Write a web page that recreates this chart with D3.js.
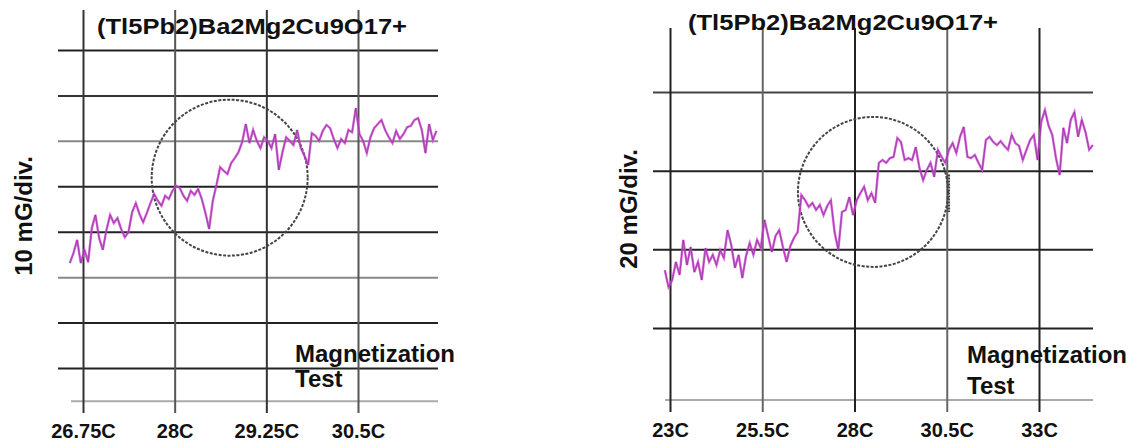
<!DOCTYPE html>
<html>
<head>
<meta charset="utf-8">
<script src="https://cdn.jsdelivr.net/npm/d3@7"></script>
<style>
  body { margin: 0; background: #fff; }
  svg text { font-family: "Liberation Sans", Arial, sans-serif; font-weight: bold; fill: #111; }
</style>
</head>
<body>
<svg id="chart" width="1148" height="448"></svg>
<script>
// ---- data ----
var title = "(Tl5Pb2)Ba2Mg2Cu9O17+";

// left run: 10 mG per division
var leftTicks = [26.75, 28, 29.25, 30.5];
var leftTickLabels = ["26.75C", "28C", "29.25C", "30.5C"];
var leftGrid = [80, 70, 60, 50, 40, 30, 20, 10];
var leftStart = 26.57, leftStep = 0.05;
var leftMag = [
  33.1, 35.3, 38.2, 33.1, 36.0, 33.3, 40.8, 43.7, 38.6, 36.0,
  40.4, 43.7, 41.9, 43.0, 40.6, 38.8, 39.9, 44.3, 46.3, 43.9,
  42.1, 44.1, 46.3, 48.3, 46.8, 45.7, 47.9, 47.2, 49.0, 50.1,
  49.6, 47.9, 46.8, 49.0, 48.1, 49.4, 47.2, 44.1, 40.6, 46.8,
  50.3, 54.2, 53.4, 52.7, 55.1, 56.2, 57.5, 59.7, 63.7, 59.5,
  62.4, 60.0, 58.4, 60.8, 60.0, 58.4, 61.5, 53.6, 57.5, 60.8,
  60.0, 59.1, 62.4, 58.4, 56.7, 54.7, 61.7, 61.1, 60.0, 62.2,
  63.5, 62.8, 60.4, 58.4, 60.4, 59.5, 62.4, 61.9, 67.2, 61.5,
  60.0, 57.3, 60.8, 62.8, 63.7, 64.6, 62.4, 60.8, 59.5, 62.2,
  60.4, 61.5, 63.0, 63.3, 64.6, 65.0, 62.4, 57.3, 63.7, 60.2,
  62.2
];

// right run: 20 mG per division
var rightTicks = [23, 25.5, 28, 30.5, 33];
var rightTickLabels = ["23C", "25.5C", "28C", "30.5C", "33C"];
var rightGrid = [80, 60, 40, 20];
var rightStart = 22.86, rightStep = 0.1;
var rightMag = [
  34.7, 30.4, 32.2, 36.8, 33.5, 42.4, 36.0, 40.6, 34.2, 36.8,
  32.2, 40.3, 36.8, 38.6, 36.0, 39.8, 37.8, 44.9, 41.1, 35.3,
  38.6, 32.7, 38.3, 41.6, 38.6, 42.4, 40.3, 47.5, 43.4, 39.3,
  43.4, 44.9, 40.6, 36.8, 40.8, 42.9, 44.4, 53.8, 52.5, 50.8,
  51.8, 50.0, 51.3, 48.7, 51.0, 52.5, 44.4, 39.8, 49.5, 50.0,
  53.3, 48.7, 52.5, 54.3, 55.9, 52.5, 54.3, 51.8, 62.0, 62.7,
  62.0, 63.2, 63.5, 68.3, 67.3, 62.7, 63.2, 62.7, 66.0, 60.7,
  57.6, 60.2, 62.0, 58.4, 65.3, 63.5, 62.0, 65.3, 67.0, 64.5,
  68.6, 71.1, 63.5, 63.2, 64.0, 62.0, 60.2, 67.8, 68.6, 67.3,
  66.5, 67.5, 66.3, 65.3, 69.1, 67.0, 66.3, 62.7, 65.3, 67.8,
  69.1, 62.7, 72.4, 75.4, 71.4, 69.1, 63.2, 58.9, 70.9, 67.0,
  72.9, 74.9, 68.6, 72.9, 69.8, 65.3, 66.5
];

var svg = d3.select("#chart");

function drawPanel(p) {
  var x = d3.scaleLinear().domain(p.xDomain).range(p.xRange);
  var y = d3.scaleLinear().domain(p.yDomain).range(p.yRange);
  var g = svg.append("g");

  // horizontal division lines
  var yAxis = d3.axisLeft(y).tickValues(p.grid).tickSize(-(p.gridRight - p.gridLeft)).tickFormat("");
  var ya = g.append("g").attr("transform", "translate(" + p.gridLeft + ",0)").call(yAxis);
  ya.select(".domain").remove();
  ya.selectAll(".tick line")
    .attr("stroke", function(d, i) { return p.hColors[i]; })
    .attr("stroke-width", 2);

  // bottom light rule
  g.append("line")
    .attr("x1", p.baseLeft).attr("x2", p.gridRight)
    .attr("y1", y(p.baseValue)).attr("y2", y(p.baseValue))
    .attr("stroke", "#aaa").attr("stroke-width", 2);

  // vertical lines + temperature labels
  var xAxis = d3.axisBottom(x).tickValues(p.ticks)
    .tickFormat(function(d, i) { return p.tickLabels[i]; })
    .tickSize(-(p.vBottom - p.vTop)).tickPadding(11);
  var xa = g.append("g").attr("transform", "translate(0," + p.vBottom + ")").call(xAxis);
  xa.select(".domain").remove();
  xa.selectAll(".tick line")
    .attr("stroke", function(d, i) { return p.vColors[i]; })
    .attr("stroke-width", 2);
  xa.selectAll(".tick text")
    .attr("font-size", 20).attr("fill", "#1a1a1a")
    .attr("font-family", "Liberation Sans, Arial, sans-serif").attr("font-weight", "bold");

  // annotation circle
  g.append("circle")
    .attr("cx", x(p.circle[0])).attr("cy", y(p.circle[1])).attr("r", p.circleR)
    .attr("fill", "none").attr("stroke", "#444").attr("stroke-width", 2)
    .attr("stroke-dasharray", "3,1.5");
  if (p.circleMark) {
    g.append("line")
      .attr("x1", x(p.circleMark[0])).attr("x2", x(p.circleMark[0]))
      .attr("y1", y(p.circleMark[1])).attr("y2", y(p.circleMark[2]))
      .attr("stroke", "#444").attr("stroke-width", 3).attr("stroke-dasharray", "2,1");
  }

  // the trace
  var pts = p.values.map(function(v, i) { return [p.start + i * p.step, v]; });
  var line = d3.line().x(function(d) { return x(d[0]); }).y(function(d) { return y(d[1]); });
  g.append("path").datum(pts)
    .attr("d", line).attr("fill", "none")
    .attr("stroke", "#d24ad8").attr("stroke-width", 2.4).attr("stroke-opacity", 0.85);
  g.append("path").datum(pts)
    .attr("d", line).attr("fill", "none")
    .attr("stroke", "#7d2d86").attr("stroke-width", 0.8).attr("stroke-opacity", 0.8);

  // texts
  g.append("text").attr("x", p.titleX).attr("y", p.titleY)
    .attr("font-size", 22).attr("textLength", 310).attr("lengthAdjust", "spacingAndGlyphs")
    .text(title);
  g.append("text")
    .attr("transform", "translate(" + p.yLabelX + "," + p.yLabelY + ") rotate(-90)")
    .attr("text-anchor", "middle").attr("font-size", 24)
    .text(p.yLabel);
  g.append("text").attr("x", p.noteX).attr("y", p.noteY).attr("font-size", 24).text("Magnetization");
  g.append("text").attr("x", p.noteX).attr("y", p.noteY + p.noteGap).attr("font-size", 24).text("Test");
}

drawPanel({
  xDomain: [26.75, 30.5], xRange: [83, 358],
  yDomain: [10, 80], yRange: [368, 50],
  grid: leftGrid, ticks: leftTicks, tickLabels: leftTickLabels,
  gridLeft: 58, gridRight: 438, baseLeft: 71, baseValue: 2.7,
  vTop: 10, vBottom: 413,
  hColors: ["#222", "#333", "#888", "#222", "#222", "#888", "#222", "#222"],
  vColors: ["#333", "#555", "#333", "#555"],
  circle: [28.75, 51.9], circleR: 78,
  start: leftStart, step: leftStep, values: leftMag,
  titleX: 97, titleY: 34, yLabel: "10 mG/div.", yLabelX: 32, yLabelY: 216,
  noteX: 295, noteY: 362, noteGap: 25
});

drawPanel({
  xDomain: [23, 33], xRange: [670, 1039],
  yDomain: [20, 80], yRange: [328, 92],
  grid: rightGrid, ticks: rightTicks, tickLabels: rightTickLabels,
  gridLeft: 653, gridRight: 1093, baseLeft: 665, baseValue: 1.7,
  vTop: 28, vBottom: 412,
  hColors: ["#444", "#222", "#222", "#222"],
  vColors: ["#222", "#666", "#222", "#666", "#222"],
  circle: [28.5, 54.6], circleR: 75,
  circleMark: [30.55, 59.0, 49.5],
  start: rightStart, step: rightStep, values: rightMag,
  titleX: 688, titleY: 30, yLabel: "20 mG/div.", yLabelX: 637, yLabelY: 209,
  noteX: 967, noteY: 363, noteGap: 31
});
</script>
</body>
</html>
